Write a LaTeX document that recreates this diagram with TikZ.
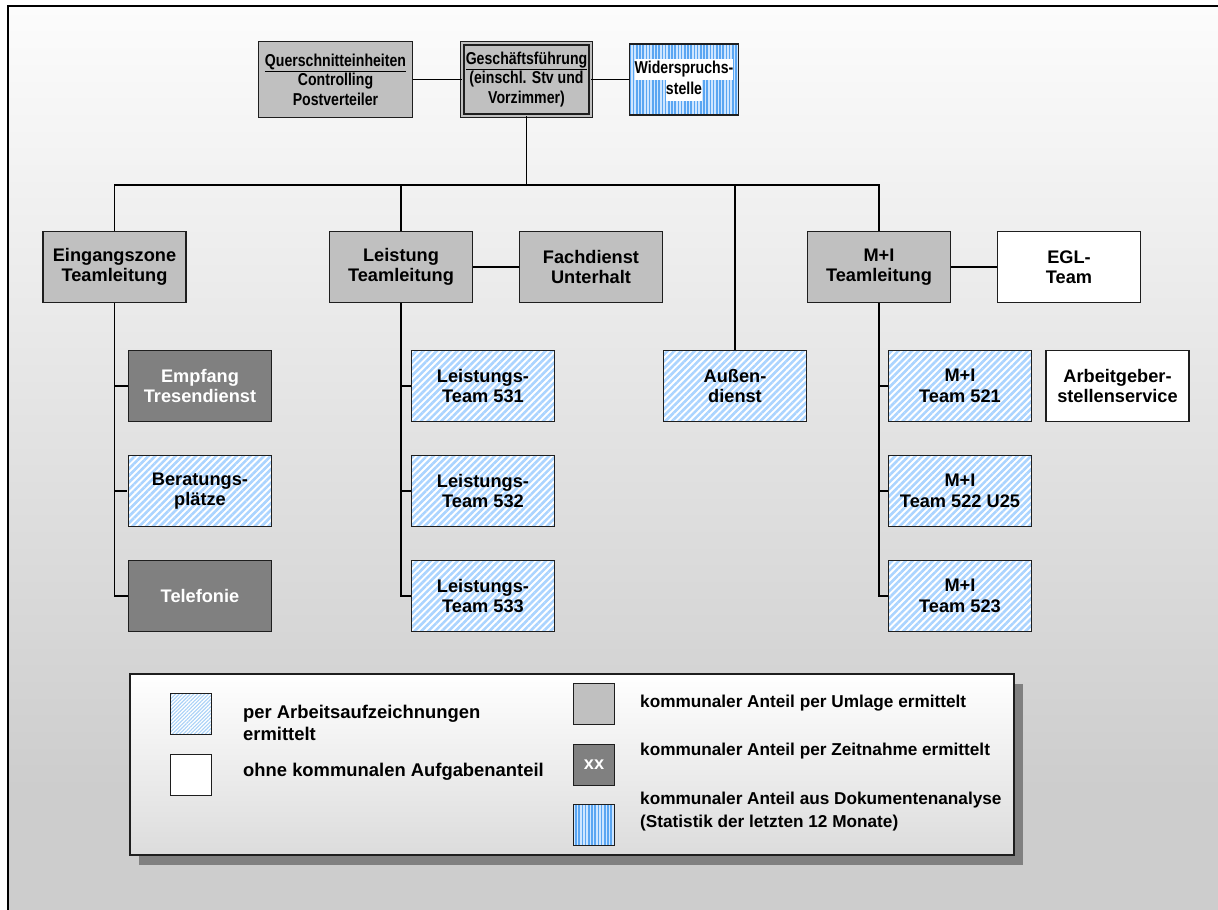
\documentclass[tikz,border=0pt]{standalone}
\usepackage{fontspec}
\setmainfont{Liberation Sans}
\newfontfamily\narrowsans[FakeStretch=0.82]{Liberation Sans}
\usetikzlibrary{patterns.meta,shadows}

\definecolor{boxgrey}{HTML}{C0C0C0}
\definecolor{darkgrey}{HTML}{808080}
\definecolor{boxline}{HTML}{1E1E1E}
\definecolor{hatchblue}{HTML}{ABD4FF}
\definecolor{finehatch}{HTML}{A9D1F7}
\definecolor{stripeblue}{HTML}{5AA6F2}
\definecolor{stripebg}{HTML}{CFE6FF}
\definecolor{bgtop}{HTML}{FCFCFC}
\definecolor{bgbot}{HTML}{CDCDCD}
\definecolor{shadowgrey}{HTML}{808080}
\definecolor{legendbot}{HTML}{DCDCDC}

\newcommand\boxfont{\fontsize{18.2}{20.5}\selectfont\bfseries}
\newcommand\toprowfont{\narrowsans\fontsize{17.2}{19.5}\selectfont\bfseries}
\newcommand\legleftfont{\fontsize{18.4}{22}\selectfont\bfseries}
\newcommand\legrightfont{\fontsize{17.2}{23}\selectfont\bfseries}
\newcommand\onwhite[1]{{\setlength{\fboxsep}{0pt}\colorbox{white}{\strut #1}}}

\tikzset{
  box/.style={draw=boxline, line width=1.3pt, minimum width=143pt,
    minimum height=71pt, inner sep=0pt, align=center, font=\boxfont},
  toprow/.style={font=\toprowfont},
  greybox/.style={box, fill=boxgrey},
  darkbox/.style={box, fill=darkgrey, text=white},
  whitebox/.style={box, fill=white},
  hatchbox/.style={box, preaction={fill=white},
    pattern={Lines[angle=45,distance=4.8pt,line width=2.6pt]},
    pattern color=hatchblue},
  stripefill/.style={preaction={fill=stripebg},
    pattern={Lines[angle=90,distance=3.2pt,line width=1.6pt]},
    pattern color=stripeblue},
  conn/.style={draw=black, line width=1.3pt},
  key/.style={draw=boxline, line width=1.3pt, minimum size=41pt, inner sep=0pt},
  keytext/.style={anchor=west, align=left, inner sep=0pt},
}

\begin{document}
\begin{tikzpicture}[x=1pt, y=-1pt]
\useasboundingbox (0,0) rectangle (1218,910);

% page background with gradient and frame
\fill[white] (0,0) rectangle (1218,910);
\shade[top color=bgtop, bottom color=bgbot] (8,6) rectangle (1218,790);
\fill[bgbot] (8,790) rectangle (1218,910);
\draw[line width=2.4pt] (8,910) -- (8,6) -- (1218,6);

% top row
\node[greybox, toprow, minimum width=154pt, minimum height=76pt] (qs) at (335.5,79.5)
  {\underline{Querschnitteinheiten}\\Controlling\\Postverteiler};
\node[greybox, toprow, double=boxgrey, double distance=2pt,
      minimum width=128.4pt, minimum height=72.4pt] (gf) at (526.5,79.5)
  {\underline{Geschäftsführung}\\(einschl. Stv und\\Vorzimmer)};
\node[box, toprow, stripefill, minimum width=109pt, minimum height=71pt,
      font=\narrowsans\fontsize{17.2}{21}\selectfont\bfseries] (ws) at (684,79.5)
  {\onwhite{Widerspruchs-}\\\onwhite{stelle}};

\draw[conn] (qs) -- (gf);
\draw[conn] (gf) -- (ws);

% second row
\node[greybox] (ez) at (114.5,267) {Eingangszone\\Teamleitung};
\node[greybox] (lt) at (401,267) {Leistung\\Teamleitung};
\node[greybox] (fu) at (591,267) {Fachdienst\\Unterhalt};
\node[greybox] (mi) at (879,267) {M+I\\Teamleitung};
\node[whitebox] (egl) at (1069,267) {EGL-\\Team};

\coordinate (bus) at (526.5,185);
\draw[conn] (gf.south) -- (bus);
\draw[conn] (ez.north) |- (bus) -| (mi.north);
\draw[conn] (lt.north) |- (bus);
\draw[conn] (lt) -- (fu);
\draw[conn] (mi) -- (egl);

% third level
\node[darkbox] (emp) at (200,386) {Empfang\\Tresendienst};
\node[hatchbox] (ber) at (200,491) {Beratungs-\\plätze};
\node[darkbox] (tel) at (200,596) {Telefonie};

\node[hatchbox] (l531) at (483,386) {Leistungs-\\Team 531};
\node[hatchbox] (l532) at (483,491) {Leistungs-\\Team 532};
\node[hatchbox] (l533) at (483,596) {Leistungs-\\Team 533};

\node[hatchbox] (ad) at (735,386) {Außen-\\dienst};

\node[hatchbox] (m521) at (960,386) {M+I\\Team 521};
\node[hatchbox] (m522) at (960,491) {M+I\\Team 522 U25};
\node[hatchbox] (m523) at (960,596) {M+I\\Team 523};
\node[whitebox] (ags) at (1117.5,386) {Arbeitgeber-\\stellenservice};

\draw[conn] (ad.north) |- (bus);
\foreach \c in {emp,ber,tel} \draw[conn] (ez.south) |- (\c.west);
\foreach \c in {l531,l532,l533} \draw[conn] (lt.south) |- (\c.west);
\foreach \c in {m521,m522,m523} \draw[conn] (mi.south) |- (\c.west);

% legend
\node[draw=boxline, line width=1.3pt, top color=white, bottom color=legendbot,
      minimum width=884pt, minimum height=181pt, inner sep=0pt,
      drop shadow={shadow xshift=9pt, shadow yshift=-10pt, fill=shadowgrey, opacity=1}]
  (legend) at (572,764.5) {};

\node[key, preaction={fill=white},
      pattern={Lines[angle=45,distance=2.6pt,line width=1.1pt]},
      pattern color=finehatch] (k1) at (191,714) {};
\node[key, fill=white] (k2) at (191,775) {};
\node[key, fill=boxgrey] (k3) at (594,704) {};
\node[key, fill=darkgrey, text=white, font=\boxfont] (k4) at (594,765) {xx};
\node[key, stripefill] (k5) at (594,825) {};

\node[keytext, font=\legleftfont] (t1) at (243,723) {per Arbeitsaufzeichnungen\\ermittelt};
\node[keytext, font=\legleftfont] (t2) at (243,772) {ohne kommunalen Aufgabenanteil};
\node[keytext, font=\legrightfont] (t3) at (640,703) {kommunaler Anteil per Umlage ermittelt};
\node[keytext, font=\legrightfont] (t4) at (640,751) {kommunaler Anteil per Zeitnahme ermittelt};
\node[keytext, font=\legrightfont] (t5) at (640,811.5)
  {kommunaler Anteil aus Dokumentenanalyse\\(Statistik der letzten 12 Monate)};
\end{tikzpicture}
\end{document}
